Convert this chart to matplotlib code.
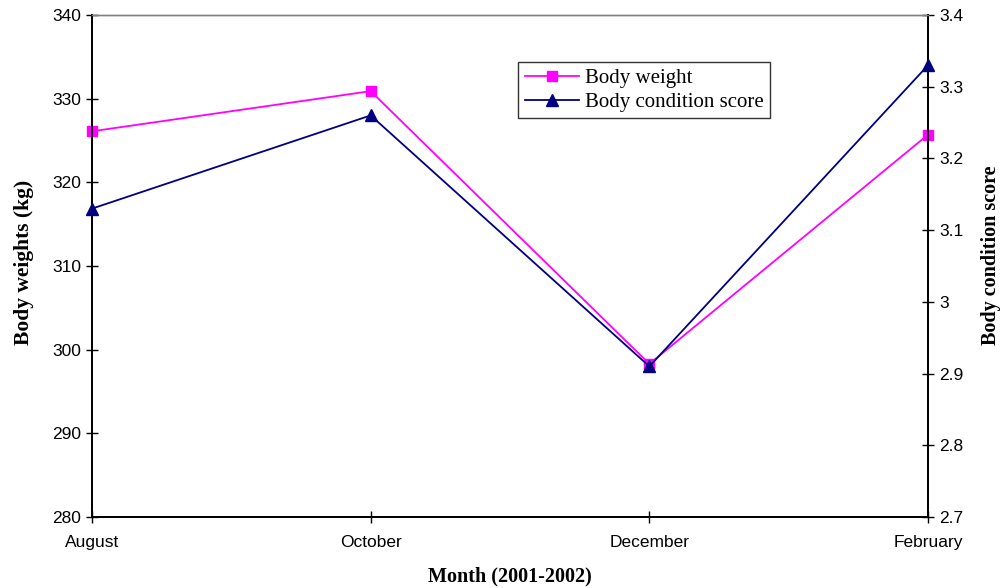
import matplotlib
matplotlib.use('Agg')
import matplotlib.pyplot as plt

# data
months = ['August', 'October', 'December', 'February']
body_weight = [326.1, 330.9, 298.3, 325.7]
bcs = [3.13, 3.26, 2.91, 3.33]

tick_font = 'Liberation Sans'
label_font = 'Liberation Serif'

fig = plt.figure(figsize=(10.02, 5.88), dpi=100)
ax = fig.add_axes([0.0918, 0.1207, 0.8344, 0.8538])
ax2 = ax.twinx()

x = range(len(months))
l1, = ax.plot(x, body_weight, color='#FF00FF', marker='s', markersize=7,
              linewidth=1.3, label='Body weight', clip_on=False, zorder=3)
l2, = ax2.plot(x, bcs, color='#000080', marker='^', markersize=8,
               linewidth=1.3, label='Body condition score', clip_on=False, zorder=3)

ax.set_xlim(0, len(months) - 1)
ax.set_ylim(280, 340)
ax.set_yticks(range(280, 341, 10))
ax2.set_ylim(2.7, 3.4)
ax2.set_yticks([2.7, 2.8, 2.9, 3.0, 3.1, 3.2, 3.3, 3.4])
ax2.set_yticklabels(['2.7', '2.8', '2.9', '3', '3.1', '3.2', '3.3', '3.4'])
ax.set_xticks(list(x))
ax.set_xticklabels(months)

for a in (ax, ax2):
    a.tick_params(direction='inout', length=8, width=1, labelsize=12.5, pad=4)
    for lab in a.get_xticklabels() + a.get_yticklabels():
        lab.set_fontfamily(tick_font)
    for s in a.spines.values():
        s.set_linewidth(1.3)
    a.spines['top'].set_color('#808080')
    a.spines['top'].set_linewidth(1)
ax.tick_params(axis='x', pad=9)

ax.set_xlabel('Month (2001-2002)', fontfamily=label_font, fontweight='bold',
              fontsize=14.5, labelpad=12)
ax.set_ylabel('Body weights (kg)', fontfamily=label_font, fontweight='bold',
              fontsize=15.5)
ax.yaxis.set_label_coords(-0.069, 0.507)
ax2.set_ylabel('Body condition score', fontfamily=label_font, fontweight='bold',
               fontsize=14.5, rotation=90)
ax2.yaxis.set_label_coords(1.063, 0.522)

ax2.legend(handles=[l1, l2], loc='upper left', bbox_to_anchor=(0.507, 0.9116),
           bbox_transform=fig.transFigure, frameon=True, fancybox=False,
           edgecolor='black', prop={'family': label_font, 'size': 15},
           handlelength=2.6, borderpad=0.3, labelspacing=0.2, handletextpad=0.3)

fig.savefig('out.png', dpi=100)
